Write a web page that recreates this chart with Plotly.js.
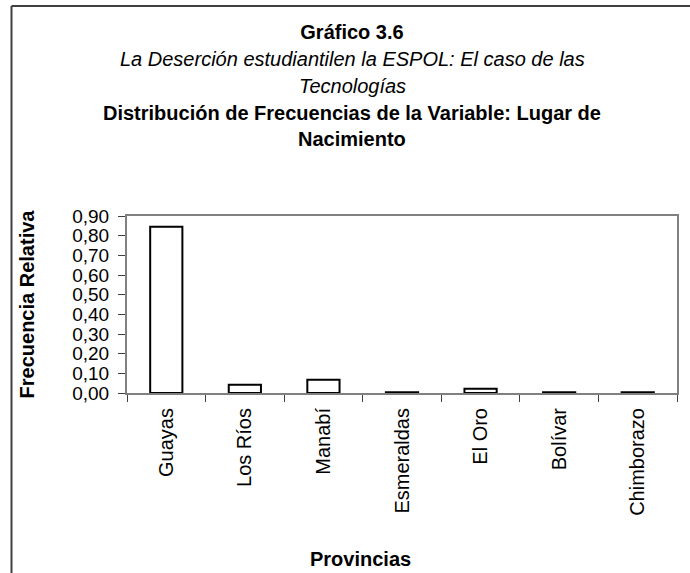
<!DOCTYPE html>
<html>
<head>
<meta charset="utf-8">
<script src="https://cdn.plot.ly/plotly-3.0.1.min.js"></script>
<style>
  html, body { margin: 0; padding: 0; background: #ffffff; }
  #chart { width: 690px; height: 573px; }
</style>
</head>
<body>
<div id="chart"></div>
<script>
// Data
const provincias = ["Guayas", "Los Ríos", "Manabí", "Esmeraldas", "El Oro", "Bolívar", "Chimborazo"];
const frecuenciaRelativa = [0.845, 0.042, 0.068, 0.004, 0.022, 0.004, 0.004];
const yTickValues = [0, 0.1, 0.2, 0.3, 0.4, 0.5, 0.6, 0.7, 0.8, 0.9];

const titleLine1 = "Gráfico 3.6";
const titleLine2 = "La Deserción estudiantilen la ESPOL: El caso de las";
const titleLine3 = "Tecnologías";
const titleLine4 = "Distribución de Frecuencias de la Variable: Lugar de";
const titleLine5 = "Nacimiento";
const xTitle = "Provincias";
const yTitle = "Frecuencia Relativa";

const FONT = "Liberation Sans, Arial, sans-serif";

// plot area geometry (pixels)
const L = 127, R = 13, T = 216, B = 180;
const W = 690 - L - R, H = 573 - T - B;
const CX = 352; // centre of the chart area
function px2paperX(px) { return (px - L) / W; }
function py2paperY(py) { return (573 - B - py) / H; }

const trace = {
  type: "bar",
  x: provincias,
  y: frecuenciaRelativa,
  width: 0.41,
  marker: { color: "#ffffff", line: { color: "#000000", width: 2 } },
  hoverinfo: "x+y"
};

const titleLines = [
  { text: "<i>" + titleLine2 + "</i>", y: 59 },
  { text: "<i>" + titleLine3 + "</i>", y: 86 },
  { text: "<b>" + titleLine4 + "</b>", y: 113 },
  { text: "<b>" + titleLine5 + "</b>", y: 139 }
];

const annotations = titleLines.map(l => ({
  text: l.text, xref: "paper", yref: "paper",
  x: px2paperX(CX), y: py2paperY(l.y),
  xanchor: "center", yanchor: "middle", showarrow: false,
  font: { family: FONT, size: 20, color: "#000000" }
}));
annotations.push({
  text: "<b>" + xTitle + "</b>", xref: "paper", yref: "paper",
  x: px2paperX(360), y: py2paperY(559),
  xanchor: "center", yanchor: "middle", showarrow: false,
  font: { family: FONT, size: 20, color: "#000000" }
});

const layout = {
  width: 690, height: 573,
  margin: { l: L, r: R, t: T, b: B, pad: 0 },
  paper_bgcolor: "#ffffff",
  plot_bgcolor: "#ffffff",
  showlegend: false,
  title: {
    text: "<b>" + titleLine1 + "</b>",
    x: CX / 690, xref: "container", xanchor: "center",
    y: 1 - 32 / 573, yref: "container", yanchor: "middle",
    font: { family: FONT, size: 20, color: "#000000" }
  },
  annotations: annotations,
  xaxis: {
    type: "category",
    range: [-0.5, 6.5],
    showline: true, linecolor: "#808080", linewidth: 2, mirror: true,
    ticks: "outside", ticklen: 7, tickcolor: "#404040", tickwidth: 1,
    tickson: "boundaries",
    ticklabelstandoff: 5,
    showgrid: false, zeroline: false,
    tickangle: -90,
    tickfont: { family: FONT, size: 20, color: "#000000" },
    automargin: false
  },
  yaxis: {
    range: [0, 0.9],
    tickvals: yTickValues,
    tickformat: ".2f",
    showline: true, linecolor: "#808080", linewidth: 2, mirror: true,
    ticks: "outside", ticklen: 7, tickcolor: "#404040", tickwidth: 1,
    ticklabelstandoff: 5,
    showgrid: false, zeroline: false,
    tickfont: { family: FONT, size: 19, color: "#000000" },
    automargin: false,
    title: { text: "<b>" + yTitle + "</b>", standoff: 32,
             font: { family: FONT, size: 20, color: "#000000" } }
  },
  separators: ",.",
  shapes: [
    { type: "line", xref: "paper", yref: "paper",
      x0: px2paperX(11.5), x1: px2paperX(11.5), y0: py2paperY(6), y1: py2paperY(600),
      line: { color: "#404040", width: 2 } },
    { type: "line", xref: "paper", yref: "paper",
      x0: px2paperX(11.5), x1: px2paperX(720), y0: py2paperY(6), y1: py2paperY(6),
      line: { color: "#404040", width: 2 } }
  ]
};

Plotly.newPlot("chart", [trace], layout, { displayModeBar: false, staticPlot: true });
</script>
</body>
</html>
